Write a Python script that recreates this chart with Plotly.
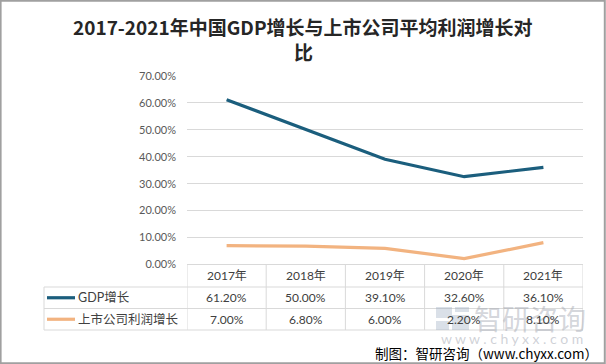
import plotly.graph_objects as go

# ---- data ----
years = ["2017年", "2018年", "2019年", "2020年", "2021年"]
series_names = ["GDP增长", "上市公司利润增长"]
gdp_growth = [0.612, 0.500, 0.391, 0.326, 0.361]
profit_growth = [0.070, 0.068, 0.060, 0.022, 0.081]
y_ticks = [0, 0.1, 0.2, 0.3, 0.4, 0.5, 0.6, 0.7]
title_lines = ["2017-2021年中国GDP增长与上市公司平均利润增长对", "比"]

colors = ["#1b5e7d", "#f2b380"]
W, H = 606, 364
FONT = "Lato, Noto Sans CJK SC, sans-serif"
CJK = "Noto Sans CJK SC, sans-serif"


def px(x):
    return x / W


def py(y):
    return 1 - y / H


X0, X1 = 187, 583
Y0, Y70 = 264.5, 76
ROW_H = [264.5, 287, 308.5, 330]  # table row borders (pixels)
TABLE_L = 44

fig = go.Figure()
for name, vals, c in zip(series_names, [gdp_growth, profit_growth], colors):
    fig.add_trace(go.Scatter(x=years, y=vals, name=name, mode="lines",
                             line=dict(color=c, width=3.2), showlegend=False))

shapes = []
grid_c = "#d9d9d9"
shapes.append(dict(type="line", xref="paper", yref="paper", x0=px(X0), x1=px(X1),
                   y0=py(ROW_H[0]), y1=py(ROW_H[0]), line=dict(color=grid_c, width=1)))
for yb in ROW_H[1:]:
    shapes.append(dict(type="line", xref="paper", yref="paper", x0=px(TABLE_L), x1=px(X1),
                       y0=py(yb), y1=py(yb), line=dict(color=grid_c, width=1)))
shapes.append(dict(type="line", xref="paper", yref="paper", x0=px(TABLE_L), x1=px(TABLE_L),
                   y0=py(ROW_H[1]), y1=py(ROW_H[3]), line=dict(color=grid_c, width=1)))
for i in range(len(years) + 1):
    shapes.append(dict(type="line", xref="x", yref="paper", x0=i - 0.5, x1=i - 0.5,
                       y0=py(ROW_H[0]), y1=py(ROW_H[3]), line=dict(color=grid_c, width=1)))
row_centers = [(ROW_H[1] + ROW_H[2]) / 2, (ROW_H[2] + ROW_H[3]) / 2]
for rc, c in zip(row_centers, colors):
    shapes.append(dict(type="line", xref="paper", yref="paper", x0=px(47), x1=px(75),
                       y0=py(rc), y1=py(rc), line=dict(color=c, width=3.2)))
# faint watermark logo blocks
wm_fill = "rgba(150,165,190,0.35)"
for (a, b, c_, d) in [(436, 307, 452, 318), (455, 307, 469, 312), (436, 321, 449, 330),
                      (452, 315, 469, 330)]:
    shapes.append(dict(type="rect", xref="paper", yref="paper", x0=px(a), x1=px(c_),
                       y0=py(d), y1=py(b), line=dict(width=0), fillcolor=wm_fill))
shapes.append(dict(type="rect", xref="paper", yref="paper", x0=0.001, x1=0.998,
                   y0=0.002, y1=0.998, line=dict(color="#a0a0a0", width=2)))


def note(x, y, text, font, xref="paper", xanchor="center"):
    return dict(x=x, xref=xref, y=y, yref="paper", text=text, showarrow=False,
                xanchor=xanchor, yanchor="middle", font=font)


ann = []
# watermark text first (drawn beneath)
ann.append(note(px(530), py(318), "智研咨询",
                dict(family=CJK, size=28, color="rgba(160,165,175,0.45)")))
ann.append(note(px(512), py(338.5), "w w w . c h y x x . c o m",
                dict(family=FONT, size=14, color="rgba(160,165,175,0.5)")))

for i, t in enumerate(title_lines):
    ann.append(note(0.5, py(27 + 25 * i), t,
                    dict(family=CJK, size=19, color="#262626", weight="bold")))
hdr_c = (ROW_H[0] + ROW_H[1]) / 2
cell_font = dict(family=FONT, size=12, color="#404040")
for yr in years:
    ann.append(note(yr, py(hdr_c), yr, cell_font, xref="x"))
for rc, name, vals in zip(row_centers, series_names, [gdp_growth, profit_growth]):
    ann.append(note(px(76), py(rc), name, dict(family=FONT, size=12.5, color="#404040"),
                    xanchor="left"))
    for yr, v in zip(years, vals):
        ann.append(note(yr, py(rc), f"{v*100:.2f}%", cell_font, xref="x"))

# source
ann.append(note(px(600), py(353), "制图：智研咨询（www.chyxx.com）",
                dict(family=CJK, size=13.5, color="#000000"), xanchor="right"))

fig.update_layout(
    width=W, height=H,
    margin=dict(l=0, r=0, t=0, b=0, pad=0),
    paper_bgcolor="white", plot_bgcolor="white",
    xaxis=dict(domain=[px(X0), px(X1)], range=[-0.5, len(years) - 0.5], showticklabels=False,
               showgrid=False, zeroline=False, showline=False, fixedrange=True, automargin=False),
    yaxis=dict(domain=[py(Y0), py(Y70)], range=[0, 0.7], tickvals=y_ticks, tickformat=".2%",
               showgrid=True, gridcolor=grid_c, gridwidth=1, zeroline=False, showline=False,
               ticks="", ticklabelstandoff=10, automargin=False,
               tickfont=dict(family=FONT, size=11, color="#595959")),
    shapes=shapes, annotations=ann,
)

fig.write_html(
    "out.html",
    config={"displayModeBar": False},
    post_script="document.documentElement.style.margin='0';document.body.style.margin='0';"
                "document.body.style.overflow='hidden';",
)
